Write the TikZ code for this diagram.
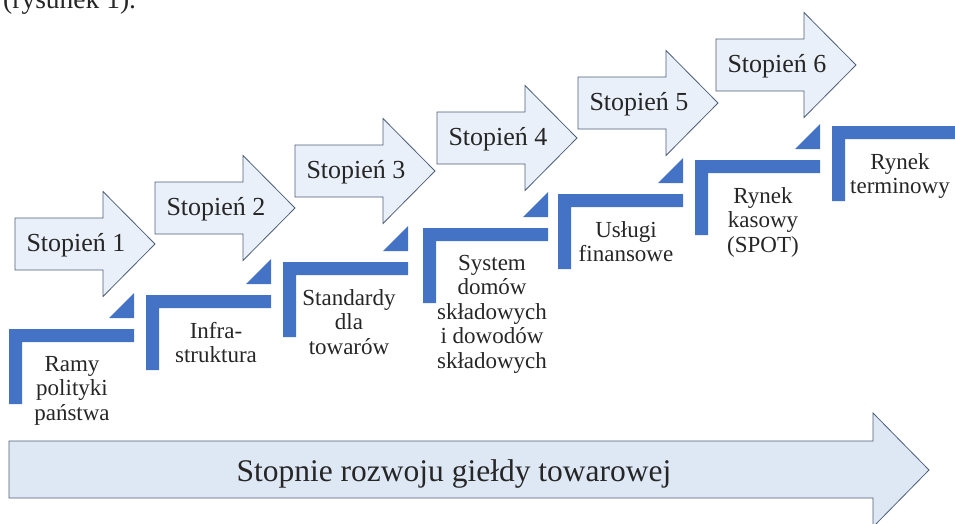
\documentclass[tikz,border=0pt]{standalone}
\usepackage{fontspec}
\setmainfont{Liberation Serif}
\usetikzlibrary{positioning, calc}

\definecolor{stepfill}{HTML}{EAF0F9}
\definecolor{stepline}{HTML}{4E5F78}
\definecolor{stairblue}{HTML}{4472C4}
\definecolor{mainfill}{HTML}{DEE8F5}

\begin{document}
\begin{tikzpicture}[
  x=1pt, y=-1pt,
  stparr/.style={draw=stepline, fill=stepfill, line width=0.8pt},
  mainarr/.style={draw=stepline, fill=mainfill, line width=0.8pt},
  stair/.style={fill=stairblue, draw=none},
  stlbl/.style={font=\fontsize{26}{30}\selectfont, anchor=base, inner sep=0pt, text=black!85},
  lvl/.style={font=\fontsize{23}{24.5}\selectfont, align=center, anchor=north,
              inner sep=0pt, text=black!85},
  ttl/.style={font=\fontsize{31.5}{36}\selectfont, anchor=base, inner sep=0pt, text=black!85}
]
\useasboundingbox (0,0) rectangle (955,523);
\clip (0,0) rectangle (955,523);

% line of text above the figure
\node[font=\fontsize{27.5}{32}\selectfont, anchor=base west, inner sep=0pt, text=black!85]
  (cap) at (3,8) {(rysunek 1).};

% stairs
\foreach \n/\lx/\ly in {1/9/329, 2/146/295, 3/283/262, 4/423/228, 5/558/194, 6/695/160, 7/832/126}{
  \fill[stair] (\lx,\ly+75) -- (\lx,\ly) -- (\lx+125,\ly) -- (\lx+125,\ly+13)
    -- (\lx+13,\ly+13) -- (\lx+13,\ly+75) -- cycle;}
\foreach \lx/\ly in {9/329, 146/295, 283/262, 423/228, 558/194, 695/160}{
  \fill[stair] (\lx+125,\ly-11) -- (\lx+125,\ly-36) -- (\lx+100,\ly-11) -- cycle;}

% step arrows
\foreach \n/\tx/\ty in {1/155/244, 2/295/208, 3/435/171, 4/577/138, 5/718/103, 6/856/65}{
  \draw[stparr] (\tx-140,\ty-26) -- (\tx-52,\ty-26) -- (\tx-52,\ty-52.5) -- (\tx,\ty)
    -- (\tx-52,\ty+52.5) -- (\tx-52,\ty+26) -- (\tx-140,\ty+26) -- cycle;
  \node[stlbl] (st\n) at (\tx-79,\ty+7) {Stopień \n};}

% stair labels
\node[lvl] (ramy) at (72,356) {Ramy\\polityki\\państwa};
\node[lvl] (infra) at (216,322) {Infra-\\struktura};
\node[lvl] (stand) at (349,289) {Standardy\\dla\\towarów};
\node[lvl] (domy) at (492,255) {System\\domów\\składowych\\i dowodów\\składowych};
\node[lvl] (usl) at (626,221) {Usługi\\finansowe};
\node[lvl] (spot) at (763,187) {Rynek\\kasowy\\(SPOT)};
\node[lvl] (term) at (900,153) {Rynek\\terminowy};

% main arrow
\draw[mainarr] (9,441) -- (873,441) -- (873,413) -- (929,470) -- (873,527)
  -- (873,498) -- (9,498) -- cycle;
\node[ttl] (title) at (454,481) {Stopnie rozwoju giełdy towarowej};
\end{tikzpicture}
\end{document}
